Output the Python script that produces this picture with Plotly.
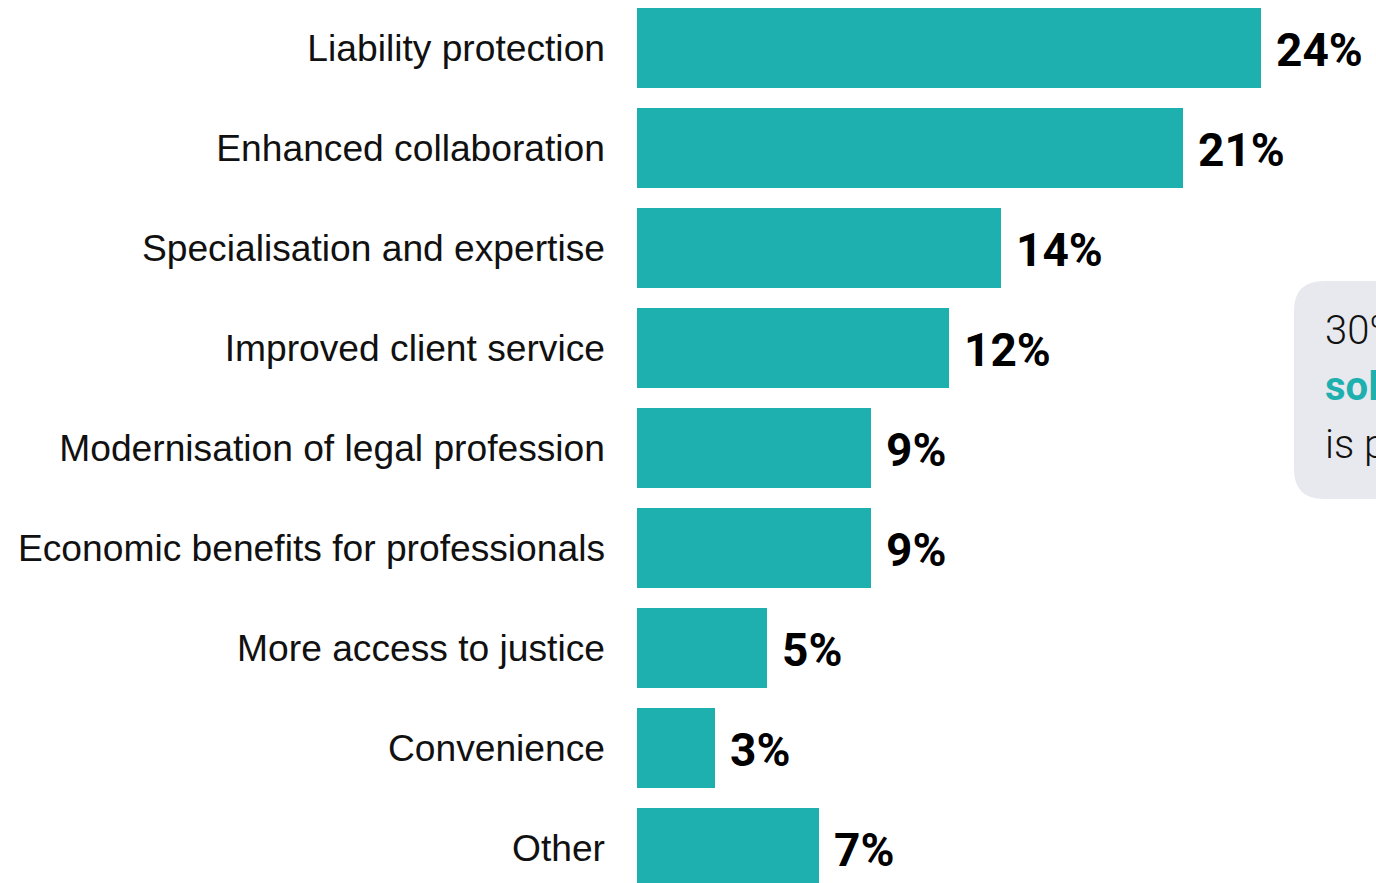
import plotly.graph_objects as go

categories = [
    "Liability protection",
    "Enhanced collaboration",
    "Specialisation and expertise",
    "Improved client service",
    "Modernisation of legal profession",
    "Economic benefits for professionals",
    "More access to justice",
    "Convenience",
    "Other",
]
values = [24, 21, 14, 12, 9, 9, 5, 3, 7]
value_labels = [f"{v}%" for v in values]

callout_lines = ["30% of respondents", "<b>sole practitioners</b>", "is preferred"]

TEAL = "#1eafaf"
W, H = 1376, 883
L = 637                   # plot-area left edge in figure pixels
px_per_pct = 26.0
PW = W - L
xmax = PW / px_per_pct

pos = list(range(len(categories)))

fig = go.Figure()
fig.add_trace(go.Bar(
    x=values, y=pos, orientation="h",
    marker=dict(color=TEAL, line=dict(width=0)),
    width=0.8, hoverinfo="skip",
))

for p, v, t in zip(pos, values, value_labels):
    fig.add_annotation(
        x=v, y=p, xref="x", yref="y", text=f"<b>{t}</b>",
        showarrow=False, xanchor="left", yanchor="middle", xshift=13, yshift=-2,
        font=dict(family="Roboto", size=46, color="#000000"),
    )

# callout box with rounded corners (clipped at right edge as in the reference)
bx0, bx1 = 1294 - L, 1520 - L      # px within plot area
by0, by1 = 281, 499                # px from top
r = 30
def px(xp):
    return xp / PW
def py(yp):
    return 1 - yp / H
path = (
    f"M {px(bx0 + r)},{py(by0)} L {px(bx1 - r)},{py(by0)} "
    f"Q {px(bx1)},{py(by0)} {px(bx1)},{py(by0 + r)} "
    f"L {px(bx1)},{py(by1 - r)} Q {px(bx1)},{py(by1)} {px(bx1 - r)},{py(by1)} "
    f"L {px(bx0 + r)},{py(by1)} Q {px(bx0)},{py(by1)} {px(bx0)},{py(by1 - r)} "
    f"L {px(bx0)},{py(by0 + r)} Q {px(bx0)},{py(by0)} {px(bx0 + r)},{py(by0)} Z"
)
fig.add_shape(type="path", xref="paper", yref="paper", path=path,
              fillcolor="#e7e9ee", line=dict(width=0), layer="below")

tx = px(1323 - L)
colors = ["#111111", TEAL, "#111111"]
for i, (line, c) in enumerate(zip(callout_lines, colors)):
    fig.add_annotation(
        x=tx, y=py(330 + 57 * i), xref="paper", yref="paper",
        text=line, showarrow=False, xanchor="left", yanchor="middle",
        font=dict(family="Roboto", size=40, color=c, weight=300 if i != 1 else 700),
    )

fig.update_layout(
    width=W, height=H,
    margin=dict(l=L, r=0, t=0, b=0),
    plot_bgcolor="white", paper_bgcolor="white",
    showlegend=False,
    xaxis=dict(range=[0, xmax], visible=False, fixedrange=True),
    yaxis=dict(
        range=[8.35, -0.48], tickmode="array", tickvals=pos, ticktext=categories,
        showgrid=False, zeroline=False, showline=False, ticks="",
        ticklabelstandoff=31, fixedrange=True,
        tickfont=dict(family="Liberation Sans, Arial", size=37.2, color="#111111"),
        automargin=False,
    ),
    bargap=0.2,
)

fig.write_html(
    "out.html",
    config={"displayModeBar": False},
    post_script="document.body.style.margin='0';document.documentElement.style.overflow='hidden';",
)
